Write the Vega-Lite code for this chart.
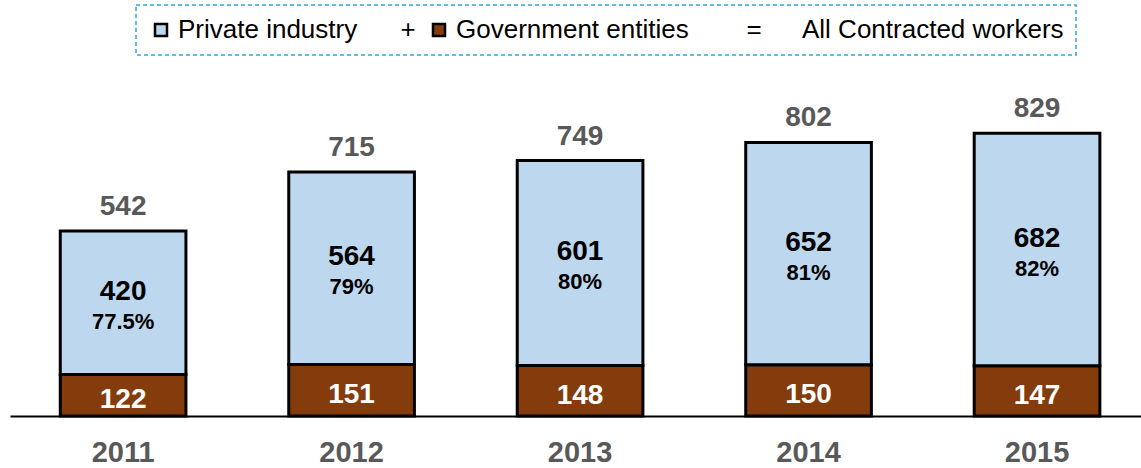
{
  "$schema": "https://vega.github.io/schema/vega-lite/v6.json",
  "width": 1131,
  "height": 307,
  "autosize": {"type": "none"},
  "padding": {"left": 10, "top": 109, "right": 0, "bottom": 52},
  "config": {
    "view": {"stroke": null},
    "font": "Liberation Sans",
    "legend": {
      "strokeColor": "#29A8E0",
      "strokeDash": [4, 3],
      "strokeWidth": 1.5,
      "padding": 12
    }
  },
  "datasets": {
    "parts": [
      {"year": "2011", "series": "Government entities", "value": 122, "pct": ""},
      {"year": "2011", "series": "Private industry", "value": 420, "pct": "77.5%"},
      {"year": "2012", "series": "Government entities", "value": 151, "pct": ""},
      {"year": "2012", "series": "Private industry", "value": 564, "pct": "79%"},
      {"year": "2013", "series": "Government entities", "value": 148, "pct": ""},
      {"year": "2013", "series": "Private industry", "value": 601, "pct": "80%"},
      {"year": "2014", "series": "Government entities", "value": 150, "pct": ""},
      {"year": "2014", "series": "Private industry", "value": 652, "pct": "81%"},
      {"year": "2015", "series": "Government entities", "value": 147, "pct": ""},
      {"year": "2015", "series": "Private industry", "value": 682, "pct": "82%"}
    ],
    "totals": [
      {"year": "2011", "total": 542},
      {"year": "2012", "total": 715},
      {"year": "2013", "total": 749},
      {"year": "2014", "total": 802},
      {"year": "2015", "total": 829}
    ]
  },
  "encoding": {
    "x": {
      "field": "year",
      "type": "nominal",
      "scale": {"paddingInner": 0.45, "paddingOuter": 0.2, "align": 0.55},
      "axis": {
        "title": null,
        "labelAngle": 0,
        "ticks": false,
        "grid": false,
        "domainColor": "black",
        "domainWidth": 2,
        "labelFont": "Liberation Sans",
        "labelFontSize": 29,
        "labelFontWeight": "bold",
        "labelColor": "#595959",
        "labelPadding": 22
      }
    }
  },
  "layer": [
    {
      "data": {"name": "parts"},
      "mark": {"type": "bar", "stroke": "black", "strokeWidth": 3},
      "encoding": {
        "y": {"field": "value", "type": "quantitative", "stack": "zero", "scale": {"domain": [0, 900]}, "axis": null},
        "order": {"field": "series", "sort": "ascending"},
        "color": {
          "field": "series",
          "type": "nominal",
          "scale": {
            "domain": ["Private industry", "Government entities", "All Contracted workers"],
            "range": ["#BDD7EE", "#843C0C", "#FFFFFF"]
          },
          "legend": {
            "title": null,
            "orient": "none",
            "legendX": 126,
            "legendY": -104,
            "direction": "horizontal",
            "symbolType": "square",
            "symbolSize": 144,
            "symbolStrokeColor": "black",
            "symbolStrokeWidth": 2.5,
            "labelFont": "Liberation Sans",
            "labelFontSize": 26,
            "labelColor": "black",
            "labelOffset": 4,
            "columnPadding": 10,
            "labelLimit": 500,
            "labelExpr": "datum.label == 'Private industry' ? 'Private industry\u00a0\u00a0\u00a0\u00a0\u00a0\u00a0+' : datum.label == 'Government entities' ? 'Government entities\u00a0\u00a0\u00a0\u00a0\u00a0\u00a0\u00a0\u00a0=' : datum.label",
            "encode": {
              "symbols": {
                "update": {
                  "strokeOpacity": {"signal": "datum.value === 'All Contracted workers' ? 0 : 1"},
                  "fillOpacity": {"signal": "datum.value === 'All Contracted workers' ? 0 : 1"}
                }
              }
            }
          }
        }
      }
    },
    {
      "data": {"name": "parts"},
      "transform": [
        {"stack": "value", "groupby": ["year"], "sort": [{"field": "series", "order": "ascending"}], "as": ["v0", "v1"]},
        {"calculate": "(datum.v0 + datum.v1) / 2", "as": "mid"},
        {"filter": "datum.series == 'Government entities'"}
      ],
      "mark": {"type": "text", "font": "Liberation Sans", "fontSize": 28, "fontWeight": "bold", "color": "white", "baseline": "middle", "dy": 5},
      "encoding": {
        "y": {"field": "mid", "type": "quantitative"},
        "text": {"field": "value", "type": "nominal"}
      }
    },
    {
      "data": {"name": "parts"},
      "transform": [
        {"stack": "value", "groupby": ["year"], "sort": [{"field": "series", "order": "ascending"}], "as": ["v0", "v1"]},
        {"calculate": "(datum.v0 + datum.v1) / 2", "as": "mid"},
        {"filter": "datum.series == 'Private industry'"}
      ],
      "mark": {"type": "text", "font": "Liberation Sans", "fontSize": 28, "fontWeight": "bold", "color": "black", "baseline": "middle", "dy": -11},
      "encoding": {
        "y": {"field": "mid", "type": "quantitative"},
        "text": {"field": "value", "type": "nominal"}
      }
    },
    {
      "data": {"name": "parts"},
      "transform": [
        {"stack": "value", "groupby": ["year"], "sort": [{"field": "series", "order": "ascending"}], "as": ["v0", "v1"]},
        {"calculate": "(datum.v0 + datum.v1) / 2", "as": "mid"},
        {"filter": "datum.series == 'Private industry'"}
      ],
      "mark": {"type": "text", "font": "Liberation Sans", "fontSize": 22, "fontWeight": "bold", "color": "black", "baseline": "middle", "dy": 19},
      "encoding": {
        "y": {"field": "mid", "type": "quantitative"},
        "text": {"field": "pct", "type": "nominal"}
      }
    },
    {
      "data": {"name": "totals"},
      "mark": {"type": "text", "font": "Liberation Sans", "fontSize": 28, "fontWeight": "bold", "color": "#595959", "baseline": "middle", "dy": -24},
      "encoding": {
        "y": {"field": "total", "type": "quantitative"},
        "text": {"field": "total", "type": "nominal"}
      }
    }
  ]
}
